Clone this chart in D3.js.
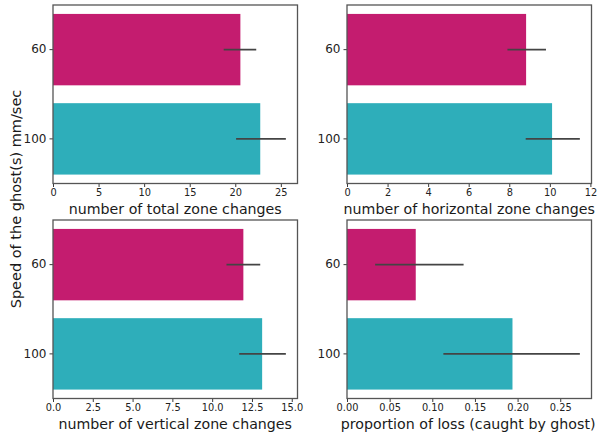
<!DOCTYPE html>
<html>
<head>
<meta charset="utf-8">
<script src="https://cdn.jsdelivr.net/npm/d3@7"></script>
<style>
  html, body { margin: 0; padding: 0; background: #fff; }
  svg { display: block; font-family: "DejaVu Sans", sans-serif; }
</style>
</head>
<body>
<svg id="chart" width="597" height="440"></svg>
<script>
// Ghost speed categories (mm/sec)
const speeds = ["60", "100"];

// Mean and confidence interval per metric, ordered as speeds
const totalMean = [20.56, 22.74];
const totalLow  = [18.73, 20.09];
const totalHigh = [22.30, 25.55];

const horizMean = [8.83, 10.11];
const horizLow  = [7.91, 8.81];
const horizHigh = [9.81, 11.48];

const vertMean = [11.96, 13.14];
const vertLow  = [10.90, 11.70];
const vertHigh = [13.02, 14.63];

const lossMean = [0.0806, 0.194];
const lossLow  = [0.033, 0.113];
const lossHigh = [0.1367, 0.273];

// Tick values per panel
const totalTicks = [0, 5, 10, 15, 20, 25];
const horizTicks = [0, 2, 4, 6, 8, 10, 12];
const vertTicks  = [0, 2.5, 5, 7.5, 10, 12.5, 15];
const lossTicks  = [0, 0.05, 0.10, 0.15, 0.20, 0.25];

const barColors = ["#c41c6f", "#2eaeba"];
const yLabel = "Speed of the ghost(s) mm/sec";

const panels = [
  { mean: totalMean, low: totalLow, high: totalHigh, ticks: totalTicks, fmt: d3.format("d"),
    label: "number of total zone changes", x: 53, y: 5 },
  { mean: horizMean, low: horizLow, high: horizHigh, ticks: horizTicks, fmt: d3.format("d"),
    label: "number of horizontal zone changes", x: 347, y: 5 },
  { mean: vertMean, low: vertLow, high: vertHigh, ticks: vertTicks, fmt: d3.format(".1f"),
    label: "number of vertical zone changes", x: 53, y: 220 },
  { mean: lossMean, low: lossLow, high: lossHigh, ticks: lossTicks, fmt: d3.format(".2f"),
    label: "proportion of loss (caught by ghost)", x: 347, y: 220 }
];

const W = 244.5, H = 178.5;
const svgW = 597;
const svg = d3.select("#chart");

panels.forEach(p => {
  const g = svg.append("g").attr("transform", `translate(${p.x},${p.y})`);
  const xMax = d3.max(p.high) * 1.05;
  const x = d3.scaleLinear().domain([0, xMax]).range([0, W]);
  const y = d3.scaleBand().domain(speeds).range([0, H]).paddingInner(0.2).paddingOuter(0.1);

  // bars
  g.selectAll("rect.bar").data(speeds).join("rect")
    .attr("class", "bar")
    .attr("x", x(0))
    .attr("y", d => y(d))
    .attr("width", (d, i) => x(p.mean[i]) - x(0))
    .attr("height", y.bandwidth())
    .attr("fill", (d, i) => barColors[i]);

  // confidence interval lines
  g.selectAll("line.err").data(speeds).join("line")
    .attr("class", "err")
    .attr("x1", (d, i) => x(p.low[i]))
    .attr("x2", (d, i) => x(p.high[i]))
    .attr("y1", d => y(d) + y.bandwidth() / 2)
    .attr("y2", d => y(d) + y.bandwidth() / 2)
    .attr("stroke", "#444")
    .attr("stroke-width", 1.8);

  // x axis
  const xa = g.append("g").attr("transform", `translate(0,${H})`)
    .call(d3.axisBottom(x).tickValues(p.ticks).tickFormat(p.fmt).tickSizeOuter(0).tickSize(3.5).tickPadding(2.5));
  xa.select(".domain").remove();
  xa.selectAll("line").attr("stroke", "#222").attr("stroke-width", 0.9);
  xa.selectAll("text").attr("font-size", 9.8).attr("fill", "#222")
    .attr("font-family", "DejaVu Sans, sans-serif");

  // y axis
  const ya = g.append("g")
    .call(d3.axisLeft(y).tickSizeOuter(0).tickSize(3.5).tickPadding(3));
  ya.select(".domain").remove();
  ya.selectAll("line").attr("stroke", "#222").attr("stroke-width", 0.9);
  ya.selectAll("text").attr("font-size", 12).attr("fill", "#222")
    .attr("font-family", "DejaVu Sans, sans-serif");

  // frame
  g.append("rect").attr("x", 0).attr("y", 0).attr("width", W).attr("height", H)
    .attr("fill", "none").attr("stroke", "#555").attr("stroke-width", 1.3);

  // x label, kept inside the figure's right edge
  const lbl = g.append("text").attr("x", W / 2).attr("y", H + 30)
    .attr("text-anchor", "middle").attr("font-size", 14.2).attr("fill", "#1a1a1a")
    .text(p.label);
  const len = lbl.node().getComputedTextLength();
  const overflow = p.x + W / 2 + len / 2 - (svgW - 1.5);
  if (overflow > 0) lbl.attr("x", W / 2 - overflow);
});

// shared y label
svg.append("text")
  .attr("transform", "translate(20.5,199) rotate(-90)")
  .attr("text-anchor", "middle").attr("font-size", 14.5).attr("fill", "#1a1a1a")
  .text(yLabel);
</script>
</body>
</html>
